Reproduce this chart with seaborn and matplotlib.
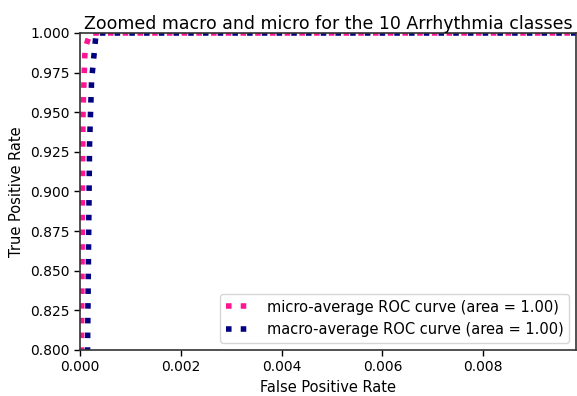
import matplotlib
matplotlib.use("Agg")
import matplotlib.pyplot as plt
import seaborn as sns
import numpy as np

# data
micro_fpr = [0.0, 0.00003, 0.00006, 0.0001, 0.0002, 0.01]
micro_tpr = [0.0, 0.80, 0.95, 0.99, 1.0, 1.0]
macro_fpr = [0.0, 0.00015, 0.00019, 0.00023, 0.00032, 0.01]
macro_tpr = [0.0, 0.80, 0.93, 0.97, 1.0, 1.0]
micro_auc = 1.00
macro_auc = 1.00

sns.set_style("ticks")
plt.rcParams['font.family'] = ['DejaVu Sans']
plt.rcParams['text.color'] = 'black'
plt.rcParams['axes.labelcolor'] = 'black'
plt.rcParams['xtick.color'] = 'black'
plt.rcParams['ytick.color'] = 'black'

fig = plt.figure(figsize=(5.77, 3.96), dpi=100)
ax = fig.add_axes([0.1386, 0.1162, 0.8604, 0.8005])

sns.lineplot(x=micro_fpr, y=micro_tpr, ax=ax, sort=False, estimator=None,
             color='deeppink', linestyle=':', linewidth=4,
             label='micro-average ROC curve (area = {0:0.2f})'.format(micro_auc))
sns.lineplot(x=macro_fpr, y=macro_tpr, ax=ax, sort=False, estimator=None,
             color='navy', linestyle=':', linewidth=4,
             label='macro-average ROC curve (area = {0:0.2f})'.format(macro_auc))

ax.set_xlim(0, 0.00985)
ax.set_ylim(0.8, 1.0)
ax.set_xticks([0.0, 0.002, 0.004, 0.006, 0.008])
ax.set_xticklabels(['0.000', '0.002', '0.004', '0.006', '0.008'])
ax.set_yticks(np.arange(0.8, 1.0001, 0.025))
ax.set_yticklabels(['%.3f' % v for v in np.arange(0.8, 1.0001, 0.025)])
ax.tick_params(labelsize=10, length=4, width=1, colors='black')
for s in ax.spines.values():
    s.set_color('#333333')
    s.set_linewidth(1.2)
ax.set_xlabel('False Positive Rate', fontsize=10.5, color='black')
ax.set_ylabel('True Positive Rate', fontsize=10.5, color='black')
ax.set_title('Zoomed macro and micro for the 10 Arrhythmia classes', fontsize=12.5, pad=3, color='black')
leg = ax.legend(loc='lower right', fontsize=10.5, frameon=True)
for t in leg.get_texts():
    t.set_color('black')

fig.savefig('out.png', dpi=100)
